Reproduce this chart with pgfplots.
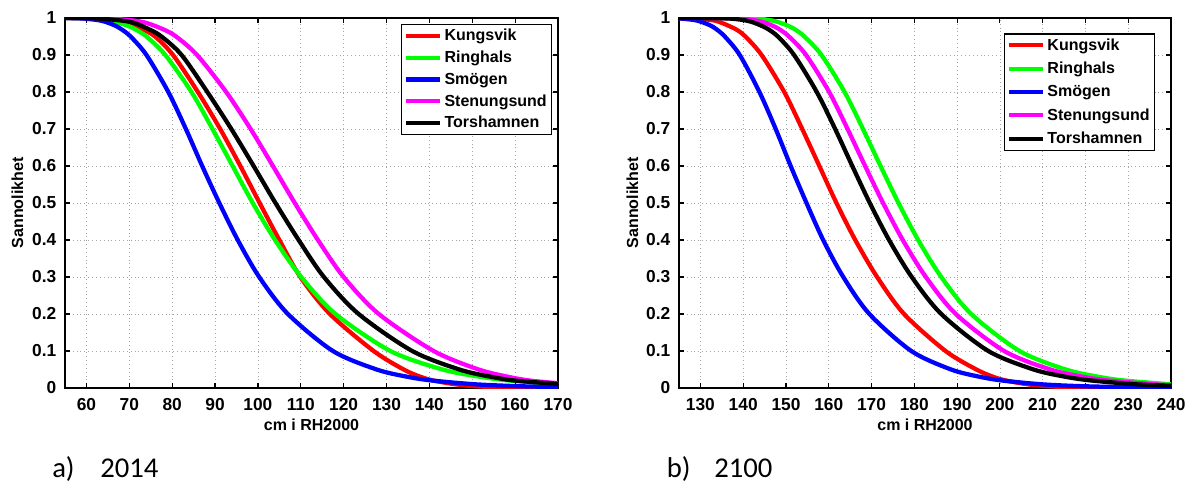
\documentclass[border=0pt]{standalone}
\usepackage{fontspec}
\setmainfont{Liberation Sans}
\newfontfamily\carlito{Carlito}
\usepackage{pgfplots}
\pgfplotsset{compat=1.18}

\definecolor{mred}{rgb}{1,0,0}
\definecolor{mgreen}{rgb}{0,1,0}
\definecolor{mblue}{rgb}{0,0,1}
\definecolor{mmag}{rgb}{1,0,1}

\newcommand\lbl{\bfseries\fontsize{12}{14}\selectfont}
\newcommand\tkl{\bfseries\fontsize{13}{15}\selectfont}
\newcommand\capfont{\carlito\fontsize{21.5}{24}\selectfont}

\pgfplotsset{
  matlab/.style={
    scale only axis,
    height=277.5pt,
    ymin=0, ymax=1,
    ytick={0,0.1,0.2,0.3,0.4,0.5,0.6,0.7,0.8,0.9,1},
    yticklabels={0,0.1,0.2,0.3,0.4,0.5,0.6,0.7,0.8,0.9,1},
    /pgf/number format/assume math mode=true,
    tick align=inside,
    xtick pos=both, ytick pos=both,
    xticklabel pos=lower, yticklabel pos=left,
    major tick length=4pt,
    tick style={line width=0.9pt, black},
    axis line style={line width=1.2pt},
    grid=major,
    grid style={gray!70, line width=0.5pt, dash pattern=on 0.6pt off 2.3pt},
    every tick label/.append style={font=\tkl},
    xticklabel style={font=\tkl, yshift=-4.5pt},
    yticklabel style={font=\tkl, xshift=-3pt},
    label style={font=\lbl},
    xlabel={cm i RH2000},
    ylabel={Sannolikhet},
    xlabel style={at={(axis description cs:0.5,0)}, anchor=center, yshift=-27.5pt},
    legend cell align=left,
    legend style={draw=black, line width=1pt, font=\lbl, inner sep=1.5pt,
      row sep=2.2pt},
    legend image code/.code={\draw[#1] (0cm,0cm) -- (0.9cm,0cm);},
    every axis plot/.append style={line width=3.2pt, smooth},
  },
}

\begin{document}
\begin{tikzpicture}
\path[use as bounding box] (0,0) rectangle (890.25pt,-363pt);

% a) 2014
\begin{axis}[matlab,
  at={(48.75pt,-291pt)}, anchor=south west,
  width=369.75pt,
  xmin=55, xmax=170,
  xtick={60,70,80,90,100,110,120,130,140,150,160,170},
  ylabel style={at={(axis description cs:-0.0963,0.5)}, anchor=center},
  legend style={at={(0.988,0.984)}, anchor=north east},
]
\addplot[mred] coordinates {(55,0.9998)(61,0.999)(69,0.99)(73,0.97)(76,0.95)(80.2,0.9)(86,0.8)(91.2,0.7)(95.9,0.6)(100.4,0.5)(105,0.4)(109.9,0.3)(116.8,0.2)(127,0.1)(134,0.05)(138,0.03)(141,0.02)(146,0.01)(150.5,0.005)(156,0.002)(163,0.0005)(170,0.0001)};
\addplot[mgreen] coordinates {(55,0.9999)(59.7,0.999)(64.3,0.995)(66.6,0.99)(69.4,0.98)(71.3,0.97)(74.0,0.95)(78.4,0.9)(84.5,0.8)(89.4,0.7)(94.1,0.6)(98.8,0.5)(104.0,0.4)(110.1,0.3)(118.1,0.2)(130.9,0.1)(143.1,0.05)(152.0,0.03)(158.9,0.02)(170,0.0105)};
\addplot[mblue] coordinates {(55,0.9999)(58.5,0.999)(62.3,0.995)(64.3,0.99)(66.6,0.98)(68.1,0.97)(70.3,0.95)(74.0,0.9)(79.1,0.8)(83.2,0.7)(87.0,0.6)(91.0,0.5)(95.3,0.4)(100.3,0.3)(107.0,0.2)(117.5,0.1)(127.7,0.05)(135.0,0.03)(140.8,0.02)(150.7,0.01)(160.5,0.005)(170,0.0025)};
\addplot[mmag] coordinates {(55,0.9999)(65,0.999)(72.8,0.99)(77.8,0.97)(80.9,0.95)(85.8,0.9)(92.6,0.8)(98.3,0.7)(103.5,0.6)(108.6,0.5)(114.0,0.4)(120.0,0.3)(128.2,0.2)(141.0,0.1)(151.5,0.05)(158.5,0.03)(163.5,0.02)(170,0.013)};
\addplot[black] coordinates {(55,0.9998)(62,0.999)(70.0,0.99)(74.5,0.97)(77.5,0.95)(82.2,0.9)(88.2,0.8)(93.8,0.7)(99.0,0.6)(104.1,0.5)(109.5,0.4)(115.4,0.3)(123.5,0.2)(136.0,0.1)(147.0,0.05)(154.5,0.03)(160.0,0.02)(170,0.011)};
\legend{Kungsvik,Ringhals,Smögen,Stenungsund,Torshamnen}
\end{axis}

% b) 2100
\begin{axis}[matlab,
  at={(509.25pt,-291pt)}, anchor=south west,
  width=369pt,
  xmin=125, xmax=240,
  xtick={130,140,150,160,170,180,190,200,210,220,230,240},
  ylabel style={at={(axis description cs:-0.0945,0.5)}, anchor=center},
  legend style={at={(0.9675,0.959)}, anchor=north east, row sep=3.4pt},
]
\addplot[mred] coordinates {(125,0.9998)(128.3,0.999)(132.2,0.995)(134.3,0.99)(138.2,0.97)(140.5,0.95)(144.3,0.9)(149.6,0.8)(153.8,0.7)(157.8,0.6)(161.8,0.5)(166.2,0.4)(171.3,0.3)(177.6,0.2)(187.3,0.1)(194.5,0.05)(198.5,0.03)(201.5,0.02)(206.5,0.01)(211,0.005)(216.5,0.002)(224,0.0005)(240,0.00005)};
\addplot[mgreen] coordinates {(125,1)(141.8,0.999)(145.8,0.995)(147.9,0.99)(150.3,0.98)(152.0,0.97)(154.3,0.95)(158.3,0.9)(163.7,0.8)(168.0,0.7)(172.1,0.6)(176.3,0.5)(180.9,0.4)(186.3,0.3)(193.3,0.2)(204.6,0.1)(215.4,0.05)(223.2,0.03)(229.3,0.02)(240,0.0099)};
\addplot[mblue] coordinates {(125,0.9989)(128.3,0.995)(130.1,0.99)(132.3,0.98)(133.7,0.97)(135.7,0.95)(139.2,0.9)(143.8,0.8)(147.6,0.7)(151.1,0.6)(154.8,0.5)(158.7,0.4)(163.4,0.3)(169.5,0.2)(179.3,0.1)(188.6,0.05)(195.4,0.03)(200.7,0.02)(209.8,0.01)(218.9,0.005)(230.8,0.002)(240,0.001)};
\addplot[mmag] coordinates {(125,1)(138.2,0.999)(142.2,0.995)(144.3,0.99)(146.7,0.98)(148.4,0.97)(150.7,0.95)(154.7,0.9)(160.1,0.8)(164.4,0.7)(168.5,0.6)(172.7,0.5)(177.3,0.4)(182.7,0.3)(189.7,0.2)(201.0,0.1)(211.8,0.05)(219.6,0.03)(225.7,0.02)(236.2,0.01)(240,0.0078)};
\addplot[black] coordinates {(125,1)(135.8,0.999)(139.7,0.995)(141.8,0.99)(144.1,0.98)(145.8,0.97)(148.1,0.95)(151.9,0.9)(157.2,0.8)(161.5,0.7)(165.5,0.6)(169.6,0.5)(174.1,0.4)(179.4,0.3)(186.3,0.2)(197.3,0.1)(207.9,0.05)(215.5,0.03)(221.6,0.02)(231.8,0.01)(240,0.0058)};
\legend{Kungsvik,Ringhals,Smögen,Stenungsund,Torshamnen}
\end{axis}

\node[anchor=base west, font=\capfont, inner sep=0pt] at (39pt,-357.75pt) {a)};
\node[anchor=base west, font=\capfont, inner sep=0pt] at (75pt,-357.75pt) {2014};
\node[anchor=base west, font=\capfont, inner sep=0pt] at (500pt,-357.75pt) {b)};
\node[anchor=base west, font=\capfont, inner sep=0pt] at (535.5pt,-357.75pt) {2100};
\end{tikzpicture}
\end{document}
